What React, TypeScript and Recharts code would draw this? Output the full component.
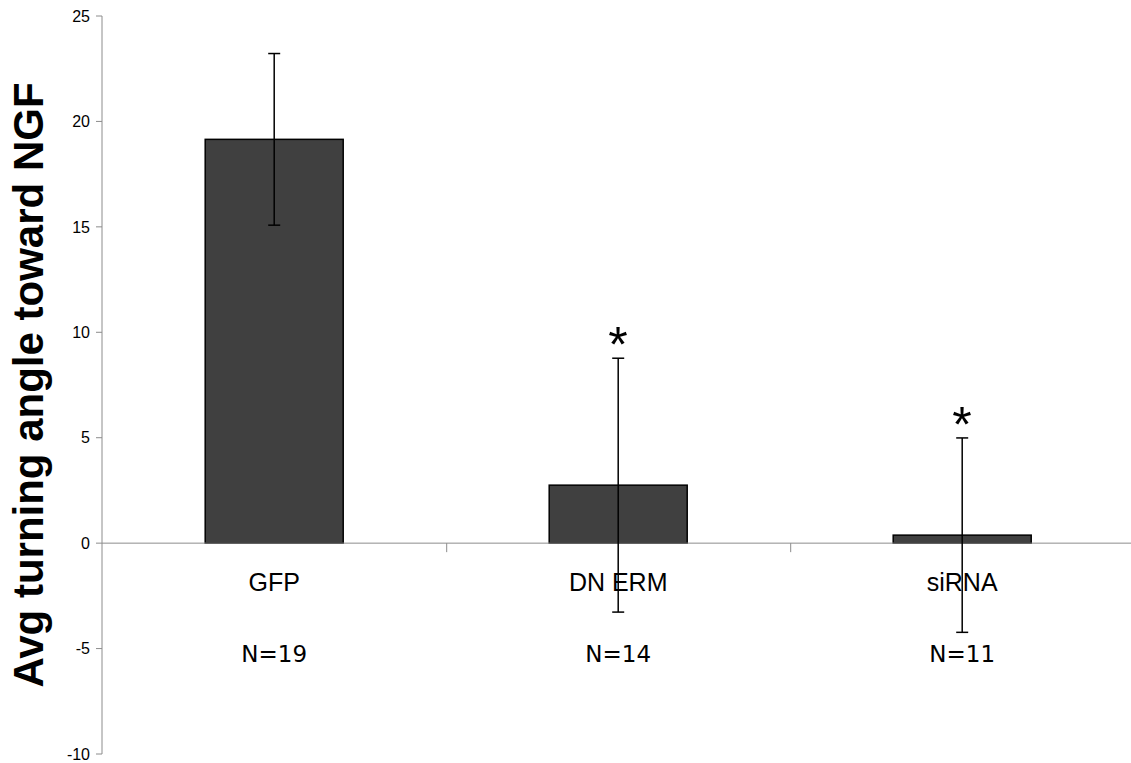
import { ComposedChart, Bar, ErrorBar, Scatter, XAxis, YAxis, ReferenceLine } from 'recharts';

const categories = ['GFP', 'DN ERM', 'siRNA'];
const meanAngle = [19.15, 2.75, 0.38];
const semAngle = [4.07, 6.02, 4.61];
const sampleSizes = [19, 14, 11];
const significant = [false, true, true];
const yTicks = [-10, -5, 0, 5, 10, 15, 20, 25];

const data = categories.map((name, i) => ({
  name,
  value: meanAngle[i],
  err: semAngle[i],
  n: sampleSizes[i],
  star: significant[i] ? meanAngle[i] + semAngle[i] : null,
}));

const AXIS_GRAY = '#8c8c8c';

function BarWithLabels(props: any) {
  const { x, y, width, height, payload } = props;
  const zeroY = y + height;
  const cx = x + width / 2;
  // bars take 40% of each category band
  const edgeX = cx + width * 1.25;
  return (
    <g>
      <rect x={x} y={y} width={width} height={height} fill="#404040" stroke="#000" strokeWidth={1.5} />
      <line x1={edgeX} y1={zeroY} x2={edgeX} y2={zeroY + 9} stroke={AXIS_GRAY} strokeWidth={1} />
      <text x={cx} y={zeroY + 48} textAnchor="middle" fontFamily="Liberation Sans, Arial, sans-serif" fontSize={25} fill="#000">
        {payload.name}
      </text>
      <text x={cx} y={zeroY + 119} textAnchor="middle" fontFamily="DejaVu Sans, sans-serif" fontSize={23} fill="#000">
        {`N=${payload.n}`}
      </text>
    </g>
  );
}

function Star(props: any) {
  const { cx, cy } = props;
  if (cx == null || cy == null) return <g />;
  return (
    <text x={cx} y={cy + 4} textAnchor="middle" fontFamily="Liberation Sans, Arial, sans-serif" fontSize={50} fill="#000">
      *
    </text>
  );
}

function YTitle(props: any) {
  const vb = props.viewBox || {};
  const cy = vb.y + vb.height / 2;
  return (
    <text
      x={43}
      y={cy}
      transform={`rotate(-90, 43, ${cy})`}
      textAnchor="middle"
      fontFamily="Liberation Sans, Arial, sans-serif"
      fontWeight="bold"
      fontSize={42}
      fill="#000"
    >
      Avg turning angle toward NGF
    </text>
  );
}

export default function App() {
  return (
    <div style={{ position: 'absolute', left: 0, top: 0, background: '#fff' }}>
      <ComposedChart width={1140} height={763} data={data} margin={{ top: 16, right: 6, bottom: 9, left: 0 }} barCategoryGap="30%">
        <XAxis dataKey="name" hide />
        <YAxis
          domain={[-10, 25]}
          ticks={yTicks}
          interval={0}
          width={102}
          axisLine={{ stroke: AXIS_GRAY }}
          tickLine={{ stroke: AXIS_GRAY }}
          tickSize={6}
          tickMargin={6}
          tick={{ fill: '#000', fontSize: 16, fontFamily: 'Liberation Sans, Arial, sans-serif' }}
          label={<YTitle />}
        />
        <ReferenceLine y={0} stroke={AXIS_GRAY} strokeWidth={1} />
        <Bar dataKey="value" shape={<BarWithLabels />} isAnimationActive={false}>
          <ErrorBar dataKey="err" width={6} stroke="#000" strokeWidth={1.5} />
        </Bar>
        <Scatter dataKey="star" shape={<Star />} isAnimationActive={false} />
      </ComposedChart>
    </div>
  );
}
